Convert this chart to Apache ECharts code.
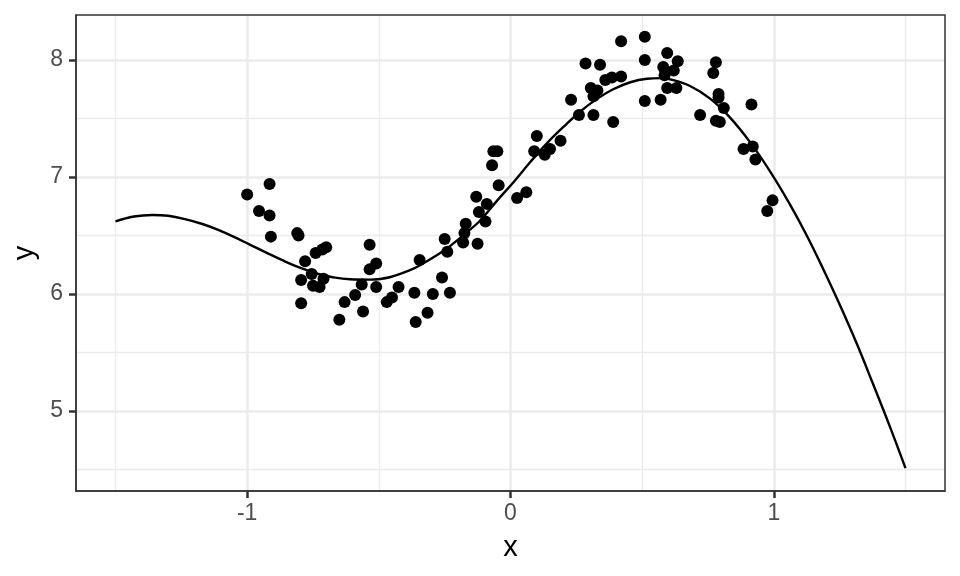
<!DOCTYPE html>
<html>
<head>
<meta charset="utf-8">
<script src="https://cdn.jsdelivr.net/npm/echarts@6/dist/echarts.min.js"></script>
<style>html,body{margin:0;padding:0;background:#fff}#c{width:960px;height:576px}</style>
</head>
<body>
<div id="c"></div>
<script>
// observed points
const pointX = [-1.00,-0.955,-0.915,-0.915,-0.91,-0.81,-0.805,-0.78,-0.755,-0.795,-0.795,-0.74,-0.715,-0.70,-0.71,-0.75,-0.725,-0.65,-0.63,-0.59,-0.565,-0.56,-0.535,-0.51,-0.535,-0.51,-0.47,-0.45,-0.425,-0.365,-0.36,-0.345,-0.315,-0.295,-0.26,-0.25,-0.24,-0.23,
  -0.18,-0.175,-0.17,-0.125,-0.095,-0.12,-0.09,-0.13,-0.045,-0.07,-0.065,-0.05,0.025,0.06,0.09,0.10,0.13,0.15,0.19,0.23,0.26,0.285,0.315,0.305,0.315,0.33,0.34,0.36,0.385,0.39,0.42,0.42,
  0.51,0.51,0.51,0.57,0.595,0.58,0.635,0.62,0.585,0.595,0.63,0.72,0.78,0.77,0.79,0.79,0.81,0.78,0.795,0.915,0.885,0.92,0.93,0.995,0.975];
const pointY = [6.85,6.71,6.67,6.94,6.49,6.52,6.50,6.28,6.17,6.12,5.92,6.35,6.38,6.40,6.13,6.07,6.06,5.78,5.93,5.99,6.08,5.85,6.42,6.26,6.21,6.06,5.93,5.97,6.06,6.01,5.76,6.29,5.84,6.00,6.14,6.47,6.36,6.01,
  6.44,6.52,6.60,6.43,6.62,6.70,6.77,6.83,6.93,7.10,7.22,7.22,6.82,6.87,7.22,7.35,7.19,7.24,7.31,7.66,7.53,7.97,7.53,7.76,7.69,7.74,7.96,7.83,7.85,7.47,7.86,8.16,
  8.20,8.00,7.65,7.66,8.06,7.94,7.99,7.91,7.87,7.76,7.76,7.53,7.98,7.89,7.71,7.68,7.59,7.48,7.47,7.62,7.24,7.26,7.15,6.80,6.71];
// fitted curve
const curveX = [-1.5,-1.43,-1.36,-1.30,-1.24,-1.17,-1.11,-1.05,-0.99,-0.92,-0.86,-0.80,-0.73,-0.68,-0.61,-0.53,-0.455,-0.38,-0.34,-0.25,-0.164,-0.114,-0.05,0.013,0.076,0.139,0.202,0.265,0.33,0.39,0.455,0.518,0.57,0.606,0.68,0.758,0.833,0.909,0.985,1.06,1.125,1.186,1.25,1.314,1.375,1.44,1.5];
const curveY = [6.620,6.662,6.675,6.668,6.642,6.598,6.548,6.488,6.422,6.345,6.282,6.226,6.172,6.145,6.125,6.122,6.145,6.205,6.250,6.375,6.53,6.63,6.80,6.96,7.13,7.29,7.43,7.56,7.67,7.75,7.81,7.84,7.845,7.835,7.78,7.67,7.51,7.30,7.05,6.77,6.50,6.22,5.91,5.58,5.24,4.87,4.51];
// axis ticks
const xMajor = [-1, 0, 1];
const xMinor = [-1.5, -0.5, 0.5, 1.5];
const yMajor = [5, 6, 7, 8];
const yMinor = [4.5, 5.5, 6.5, 7.5];
const xRange = [-1.65, 1.65];
const yRange = [4.315, 8.385];

const font = '"Liberation Sans", Arial, sans-serif';
const chart = echarts.init(document.getElementById('c'));

function axisPair(kind, major, minor, range, name) {
  const isX = kind === 'x';
  const main = {
    type: 'value', min: range[0], max: range[1],
    position: isX ? 'bottom' : 'left',
    name: name, nameLocation: 'middle', nameGap: isX ? 42 : 29,
    nameTextStyle: { color: '#000', fontSize: 29, fontFamily: font },
    axisLine: { show: true, onZero: false, lineStyle: { color: '#333', width: 1.5 } },
    axisTick: { show: true, length: 7, lineStyle: { color: '#333', width: 2.5 }, customValues: major },
    axisLabel: { show: true, color: '#4d4d4d', fontSize: 23, fontFamily: font, margin: isX ? 11 : 13, customValues: major, formatter: v => String(v) },
    splitLine: { show: true, lineStyle: { color: '#ebebeb', width: 2.5 } },
    z: 1
  };
  const sub = {
    type: 'value', min: range[0], max: range[1],
    position: isX ? 'bottom' : 'left',
    axisLine: { show: false, onZero: false },
    axisTick: { show: false, customValues: minor },
    axisLabel: { show: false, customValues: minor },
    splitLine: { show: true, lineStyle: { color: '#ebebeb', width: 1.3 } },
    z: 0
  };
  return [main, sub];
}

chart.setOption({
  animation: false,
  backgroundColor: '#fff',
  grid: { left: 76, right: 15, top: 15, bottom: 85, show: true, borderColor: '#333', borderWidth: 1.5, backgroundColor: 'transparent', z: 3 },
  xAxis: axisPair('x', xMajor, xMinor, xRange, 'x'),
  yAxis: axisPair('y', yMajor, yMinor, yRange, 'y'),
  series: [
    {
      type: 'line', xAxisIndex: 0, yAxisIndex: 0,
      data: curveX.map((x, i) => [x, curveY[i]]),
      smooth: 0.4, showSymbol: false, symbol: 'none',
      lineStyle: { color: '#000', width: 2.4 }, z: 4
    },
    {
      type: 'scatter', xAxisIndex: 0, yAxisIndex: 0,
      data: pointX.map((x, i) => [x, pointY[i]]),
      symbol: 'circle', symbolSize: 12,
      itemStyle: { color: '#000', opacity: 1 }, z: 5
    }
  ]
});
</script>
</body>
</html>
